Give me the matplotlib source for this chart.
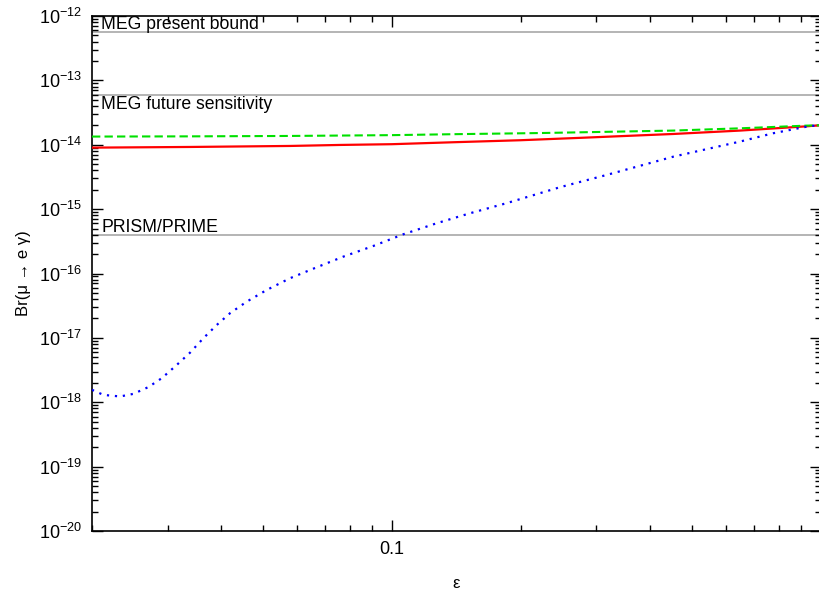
import numpy as np
import matplotlib
matplotlib.use("Agg")
import matplotlib.pyplot as plt

plt.rcParams['font.family'] = ['Liberation Sans', 'DejaVu Sans']
plt.rcParams['mathtext.fontset'] = 'custom'
plt.rcParams['mathtext.rm'] = 'Liberation Sans'
plt.rcParams['mathtext.it'] = 'Liberation Sans:italic'

# experimental bounds
bound_values = [5.7e-13, 6e-14, 4e-16]
bound_labels = ["MEG present bound", "MEG future sensitivity", "PRISM/PRIME"]

# red solid curve
eps_red = [0.02, 0.0339, 0.0579, 0.0757, 0.1, 0.1405, 0.1991, 0.2747, 0.4529, 0.6485, 0.9226, 1.0]
br_red = [9.02e-15, 9.24e-15, 9.58e-15, 9.93e-15, 1.02e-14, 1.096e-14, 1.175e-14, 1.28e-14,
          1.47e-14, 1.66e-14, 1.93e-14, 2.01e-14]

# green dashed curve
eps_green = [0.02, 0.0339, 0.0579, 0.1, 0.1405, 0.2216, 0.2747, 0.4529, 0.6485, 0.9226, 1.0]
br_green = [1.34e-14, 1.35e-14, 1.37e-14, 1.41e-14, 1.46e-14, 1.52e-14, 1.56e-14, 1.66e-14,
            1.80e-14, 1.98e-14, 2.01e-14]

# blue dotted curve
eps_blue = [0.02, 0.02127, 0.02326, 0.02497, 0.02707, 0.0291, 0.03154, 0.03387, 0.03637,
            0.03909, 0.04197, 0.04592, 0.05112, 0.05792, 0.06685, 0.07713, 0.0906, 0.1064,
            0.1273, 0.1522, 0.1854, 0.2216, 0.2467, 0.3171, 0.4533, 0.6485, 0.7752, 0.9277, 1.0]
br_blue = [1.56e-18, 1.30e-18, 1.23e-18, 1.35e-18, 1.72e-18, 2.37e-18, 3.81e-18, 5.91e-18, 9.89e-18,
           1.59e-17, 2.42e-17, 3.66e-17, 5.56e-17, 8.45e-17, 1.25e-16, 1.83e-16, 2.68e-16, 4.07e-16,
           6.04e-16, 8.63e-16, 1.24e-15, 1.77e-15, 2.19e-15, 3.40e-15, 6.53e-15, 1.12e-14, 1.51e-14,
           1.91e-14, 2.04e-14]

fig = plt.figure(figsize=(8.19, 5.90), dpi=100)
ax = fig.add_axes([92/819, 1-531/590, (820.7-92)/819, (531-16)/590])

for b in bound_values:
    ax.axhline(b, color='#a8a8a8', lw=1.2, zorder=1)

ax.plot(eps_red, br_red, color='#ff0000', lw=1.6, zorder=3)
ax.plot(eps_green, br_green, color='#00e000', lw=1.5, ls=(0, (4, 2)), zorder=3)
ax.plot(eps_blue, br_blue, color='#0000ff', lw=1.6, ls=(0, (1, 2.6)), zorder=3)

ax.set_xscale('log')
ax.set_yscale('log')
ax.set_xlim(0.02, 1.0)
ax.set_ylim(1e-20, 1e-12)

ax.text(0.0210, 5.7e-13 * 1.09, bound_labels[0], fontsize=12.7, va='baseline', ha='left')
ax.text(0.0210, 6e-14 / 1.667, bound_labels[1], fontsize=12.7, va='baseline', ha='left')
ax.text(0.0210, 4e-16 * 1.11, bound_labels[2], fontsize=12.7, va='baseline', ha='left')

ax.set_xticks([0.1], ['0.1'])
ax.set_yticks([10.0**k for k in range(-20, -11)])
ax.tick_params(which='both', direction='in', top=True, right=True, labelsize=13, pad=7)
ax.tick_params(which='major', length=8, width=1)
ax.tick_params(which='minor', length=4, width=1)
for s in ax.spines.values():
    s.set_linewidth(1.2)

ax.set_xlabel('ε', fontsize=12, labelpad=13)
ax.set_ylabel('Br(μ → e γ)', fontsize=12, labelpad=6)

fig.savefig('out.png', dpi=100)
